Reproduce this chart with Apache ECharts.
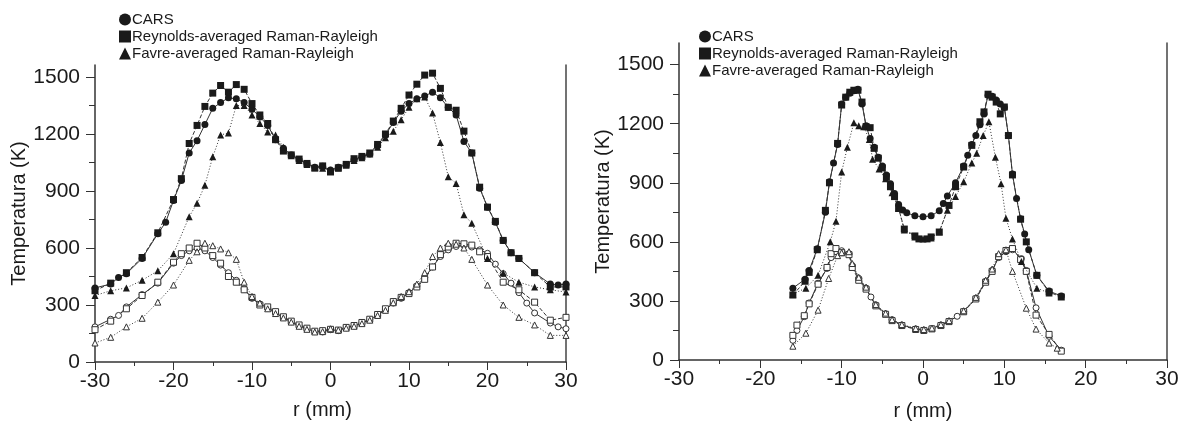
<!DOCTYPE html>
<html>
<head>
<meta charset="utf-8">
<script src="https://cdn.jsdelivr.net/npm/echarts@6/dist/echarts.min.js"></script>
<style>
  html, body { margin: 0; padding: 0; background: #fff; }
  #chart { width: 1184px; height: 426px; }
</style>
</head>
<body>
<div id="chart"></div>
<script>
// legend names
const names = ['CARS', 'Reynolds-averaged Raman-Rayleigh', 'Favre-averaged Raman-Rayleigh'];
const yTicks = [0, 300, 600, 900, 1200, 1500];
const yMinorTicks = [150, 450, 750, 1050, 1350];

// left panel, upper (filled) curves: [r (mm), T (K)]
const leftCars = [[-30,390],[-28,410],[-27,445],[-26,465],[-24,545],[-22,675],[-21,735],[-20,850],[-19,955],[-18,1100],[-17,1165],[-16,1250],[-15,1335],[-14,1365],[-13,1390],[-12,1385],[-11,1365],[-10,1330],[-9,1290],[-8,1245],[-7,1170],[-6,1125],[-5,1090],[-4,1065],[-3,1045],[-2,1025],[-1,1030],[0,1010],[1,1025],[2,1040],[3,1065],[4,1080],[5,1095],[6,1140],[7,1195],[8,1260],[9,1320],[10,1360],[11,1385],[12,1400],[13,1420],[14,1390],[15,1340],[16,1300],[17,1160],[18,1100],[19,915],[20,815],[21,735],[22,640],[23,575],[24,545],[26,470],[28,410],[29,405],[30,410]];
const leftReyn = [[-30,375],[-28,415],[-26,470],[-24,550],[-22,680],[-20,855],[-19,965],[-18,1150],[-17,1245],[-16,1345],[-15,1415],[-14,1455],[-13,1420],[-12,1460],[-11,1435],[-10,1360],[-9,1300],[-8,1255],[-7,1170],[-6,1110],[-5,1090],[-4,1068],[-3,1045],[-2,1020],[-1,1032],[0,1000],[1,1022],[2,1040],[3,1070],[4,1082],[5,1100],[6,1145],[7,1200],[8,1268],[9,1335],[10,1405],[11,1462],[12,1510],[13,1520],[14,1440],[15,1340],[16,1325],[17,1215],[18,1100],[19,920],[20,815],[21,740],[22,640],[23,575],[24,545],[26,470],[28,395],[30,395]];
const leftFavre = [[-30,350],[-28,375],[-26,390],[-24,430],[-22,480],[-20,570],[-18,765],[-17,835],[-16,930],[-15,1080],[-14,1195],[-13,1205],[-12,1350],[-11,1350],[-10,1300],[-9,1255],[-8,1210],[-7,1195],[-6,1130],[-5,1085],[-4,1060],[-3,1040],[-2,1025],[-1,1020],[0,1010],[1,1020],[2,1035],[3,1060],[4,1075],[5,1095],[6,1130],[7,1180],[8,1215],[9,1275],[10,1340],[11,1385],[12,1395],[13,1310],[14,1155],[15,975],[16,940],[17,775],[18,730],[20,545],[22,468],[24,420],[26,395],[28,380],[30,368]];

// left panel, lower (open) curves
const leftCarsLow = [[-30,185],[-28,225],[-27,245],[-26,290],[-24,355],[-22,415],[-20,520],[-19,560],[-18,585],[-17,600],[-16,585],[-15,550],[-14,510],[-13,470],[-12,430],[-11,385],[-10,335],[-9,305],[-8,285],[-7,258],[-6,235],[-5,212],[-4,190],[-3,175],[-2,160],[-1,158],[0,170],[1,165],[2,180],[3,190],[4,205],[5,222],[6,245],[7,275],[8,310],[9,335],[10,365],[11,400],[12,445],[13,500],[14,555],[15,590],[16,608],[17,615],[18,605],[19,590],[20,572],[21,515],[22,465],[23,415],[24,365],[25,310],[26,258],[28,205],[29,185],[30,175]];
const leftReynLow = [[-30,170],[-28,215],[-26,280],[-24,350],[-22,420],[-20,525],[-19,570],[-18,600],[-17,625],[-16,600],[-15,560],[-14,520],[-13,450],[-12,420],[-11,380],[-10,340],[-9,300],[-8,290],[-7,265],[-6,238],[-5,215],[-4,195],[-3,178],[-2,162],[-1,165],[0,172],[1,168],[2,182],[3,192],[4,208],[5,225],[6,250],[7,280],[8,318],[9,340],[10,360],[11,395],[12,435],[13,500],[14,565],[15,605],[16,625],[17,622],[18,615],[19,580],[20,555],[22,420],[24,380],[26,315],[28,220],[30,235]];
const leftFavreLow = [[-30,100],[-28,130],[-26,185],[-24,230],[-22,315],[-20,405],[-18,535],[-17,580],[-16,625],[-15,612],[-14,595],[-13,575],[-12,540],[-11,420],[-10,345],[-9,310],[-8,280],[-7,255],[-6,232],[-5,210],[-4,188],[-3,172],[-2,158],[-1,160],[0,175],[1,168],[2,178],[3,188],[4,202],[5,220],[6,245],[7,272],[8,312],[9,345],[10,370],[11,410],[12,470],[13,555],[14,600],[15,625],[16,620],[17,600],[18,540],[20,405],[22,300],[24,235],[26,195],[28,140],[30,140]];

// right panel, upper (filled) curves
const rightCars = [[-16,365],[-14.5,410],[-14,455],[-13,565],[-12,750],[-11.5,905],[-11,1000],[-10.5,1095],[-10,1300],[-9.5,1335],[-9,1355],[-8.5,1368],[-8,1375],[-7.5,1300],[-7,1190],[-6.5,1125],[-6,1080],[-5.5,1030],[-5,985],[-4.5,940],[-4,895],[-3.5,845],[-3,790],[-2.5,762],[-2,748],[-1,732],[0,727],[1,732],[2,758],[2.5,795],[3,833],[4,900],[5,985],[5.5,1040],[6,1095],[6.5,1140],[7,1195],[7.5,1250],[8,1345],[8.5,1340],[9,1320],[9.5,1300],[10,1283],[10.5,1140],[11,945],[11.5,820],[12,717],[12.5,640],[13,560],[14,430],[15.5,350],[17,325]];
const rightReyn = [[-16,330],[-14.5,400],[-14,445],[-13,560],[-12,760],[-11.5,900],[-10.5,1100],[-10,1295],[-9.5,1335],[-9,1360],[-8.5,1370],[-8,1370],[-7.5,1310],[-7,1185],[-6.5,1180],[-6,1075],[-5.5,1025],[-5,975],[-4.5,930],[-4,880],[-3.5,830],[-3,770],[-2.3,665],[-1,630],[-0.5,615],[0.5,615],[1,625],[2,650],[3.2,785],[4,880],[5,980],[6,1090],[7,1210],[7.5,1260],[8,1350],[8.5,1335],[9,1310],[9.5,1250],[10,1285],[10.5,1140],[11,940],[12,715],[12.7,600],[14,430],[15.5,345],[17,320]];
const rightFavre = [[-16,335],[-14.4,365],[-12.9,430],[-11.4,600],[-10.7,705],[-10,955],[-9.3,1080],[-8.5,1205],[-7.9,1190],[-7.3,1185],[-6.6,1120],[-6.2,1020],[-5.4,970],[-4.6,920],[-3.8,850],[-3,770],[-2.3,660],[-1,625],[0,615],[1,620],[2,650],[3,760],[4,830],[5,905],[6,1000],[6.6,1050],[7.4,1140],[8.1,1210],[8.9,1030],[9.6,895],[10.2,720],[11,615],[12.1,500],[14,365],[15.5,340]];

// right panel, lower (open) curves
const rightCarsLow = [[-16,100],[-15.5,150],[-14.6,220],[-14,290],[-12.9,390],[-11.8,465],[-11.3,520],[-10.7,550],[-10,555],[-9.1,540],[-8.7,480],[-7.9,415],[-7,365],[-6.4,320],[-5.8,280],[-4.6,235],[-3.8,205],[-2.6,178],[-0.9,158],[0.1,152],[1.1,160],[2.2,178],[3.2,197],[4.2,222],[5,247],[6.5,313],[7.7,400],[8.5,455],[9.3,520],[10.2,550],[11,560],[12.1,515],[12.7,455],[13.9,265],[15.5,120],[17,50]];
const rightReynLow = [[-16,125],[-15.5,177],[-14.6,225],[-14,285],[-12.9,385],[-11.8,470],[-11.3,540],[-10.7,566],[-10,545],[-9.1,535],[-8.7,470],[-7.9,405],[-7,360],[-5.8,275],[-4.6,232],[-3.8,200],[-2.6,175],[-0.9,155],[0.1,150],[1.1,158],[2.2,175],[3.2,195],[5,245],[6.5,310],[7.7,395],[8.5,450],[9.3,525],[10.2,556],[11,566],[12,510],[12.7,450],[13.9,228],[15.5,130],[17,45]];
const rightFavreLow = [[-16,70],[-14.4,136],[-12.9,253],[-11.6,414],[-10.5,530],[-10,545],[-9.1,550],[-8.7,490],[-7.9,420],[-7,370],[-5.8,282],[-4.6,238],[-3.8,205],[-2.6,180],[-0.9,160],[0.1,155],[1.1,162],[2.2,180],[3.2,200],[5,250],[6.5,318],[7.7,405],[8.5,462],[9.3,540],[10.2,560],[11,450],[12.7,263],[13.9,157],[15.5,86],[16.5,60]];

const FONT = '"Liberation Sans", Arial, sans-serif';
const INK = '#1a1a1a';

const chart = echarts.init(document.getElementById('chart'), null, { renderer: 'canvas' });

function mkSeries(name, data, panel, symbol, filled, lineType) {
  return {
    name: name,
    type: 'line',
    xAxisIndex: panel,
    yAxisIndex: panel * 3,
    data: data,
    symbol: symbol,
    symbolSize: filled ? 7 : 6,
    showAllSymbol: true,
    animation: false,
    lineStyle: { color: '#333', width: 1, type: lineType },
    itemStyle: filled
      ? { color: INK, borderWidth: 0 }
      : { color: '#fff', borderColor: '#333', borderWidth: 1 },
    z: filled ? 3 : 2
  };
}

function xAx(grid) {
  return {
    type: 'value', gridIndex: grid, min: -30, max: 30, interval: 10,
    name: 'r (mm)', nameLocation: 'middle', nameGap: grid === 0 ? 38 : 41,
    nameTextStyle: { fontFamily: FONT, fontSize: 20, color: INK, padding: grid === 0 ? [0, 16, 0, 0] : 0 },
    axisLine: { onZero: false, lineStyle: { color: '#333', width: 1.5 } },
    axisTick: { length: 8, lineStyle: { color: '#333' } },
    minorTick: { show: true, splitNumber: 2, length: 4, lineStyle: { color: '#333' } },
    axisLabel: { fontFamily: FONT, fontSize: 21, color: INK, margin: 9 },
    splitLine: { show: false }
  };
}

function yAxes(grid, max, gap) {
  return [
    {
      type: 'value', gridIndex: grid, position: 'left', min: 0, max: max,
      name: 'Temperatura (K)', nameLocation: 'middle', nameGap: gap,
      nameTextStyle: { fontFamily: FONT, fontSize: 20, color: INK },
      axisLine: { show: true, onZero: false, lineStyle: { color: '#333', width: 1.5 } },
      axisTick: { show: true, length: 9, customValues: yTicks, lineStyle: { color: '#333' } },
      axisLabel: { fontFamily: FONT, fontSize: 21, color: INK, margin: 15, customValues: yTicks,
        formatter: v => String(v) },
      splitLine: { show: false }
    },
    {
      // right frame line
      type: 'value', gridIndex: grid, position: 'right', min: 0, max: max,
      axisLine: { show: true, onZero: false, lineStyle: { color: '#444', width: 1.5 } },
      axisTick: { show: false }, axisLabel: { show: false }, splitLine: { show: false }
    },
    {
      // minor ticks
      type: 'value', gridIndex: grid, position: 'left', min: 0, max: max,
      axisLine: { show: false, onZero: false },
      axisTick: { show: true, length: 6, customValues: yMinorTicks, lineStyle: { color: '#333' } },
      axisLabel: { show: false }, splitLine: { show: false }
    }
  ];
}

function legend(left, top) {
  return {
    orient: 'vertical', left: left, top: top,
    itemWidth: 12, itemHeight: 12, itemGap: 2,
    textStyle: { fontFamily: FONT, fontSize: 15, color: INK, padding: [0, 0, 0, -4] },
    data: [
      { name: names[0], icon: 'circle' },
      { name: names[1], icon: 'rect' },
      { name: names[2], icon: 'triangle' }
    ],
    selectedMode: false
  };
}

const option = {
  backgroundColor: '#fff',
  animation: false,
  legend: [legend(114, 7), legend(694, 24)],
  grid: [
    { left: 95, top: 65, width: 471, height: 297 },
    { left: 679, top: 43, width: 488, height: 319 }
  ],
  xAxis: [xAx(0), xAx(1)],
  yAxis: yAxes(0, 1563, 62).concat(yAxes(1, 1610, 57)),
  series: [
    mkSeries(names[0], leftCars, 0, 'circle', true, 'solid'),
    mkSeries(names[1], leftReyn, 0, 'rect', true, [4, 2]),
    mkSeries(names[2], leftFavre, 0, 'triangle', true, [1, 2]),
    mkSeries('CARS low', leftCarsLow, 0, 'circle', false, 'solid'),
    mkSeries('Reynolds low', leftReynLow, 0, 'rect', false, [4, 2]),
    mkSeries('Favre low', leftFavreLow, 0, 'triangle', false, [1, 2]),
    mkSeries(names[0], rightCars, 1, 'circle', true, 'solid'),
    mkSeries(names[1], rightReyn, 1, 'rect', true, [4, 2]),
    mkSeries(names[2], rightFavre, 1, 'triangle', true, [1, 2]),
    mkSeries('CARS low', rightCarsLow, 1, 'circle', false, 'solid'),
    mkSeries('Reynolds low', rightReynLow, 1, 'rect', false, [4, 2]),
    mkSeries('Favre low', rightFavreLow, 1, 'triangle', false, [1, 2])
  ]
};

chart.setOption(option);
window.addEventListener('resize', () => chart.resize());
</script>
</body>
</html>
